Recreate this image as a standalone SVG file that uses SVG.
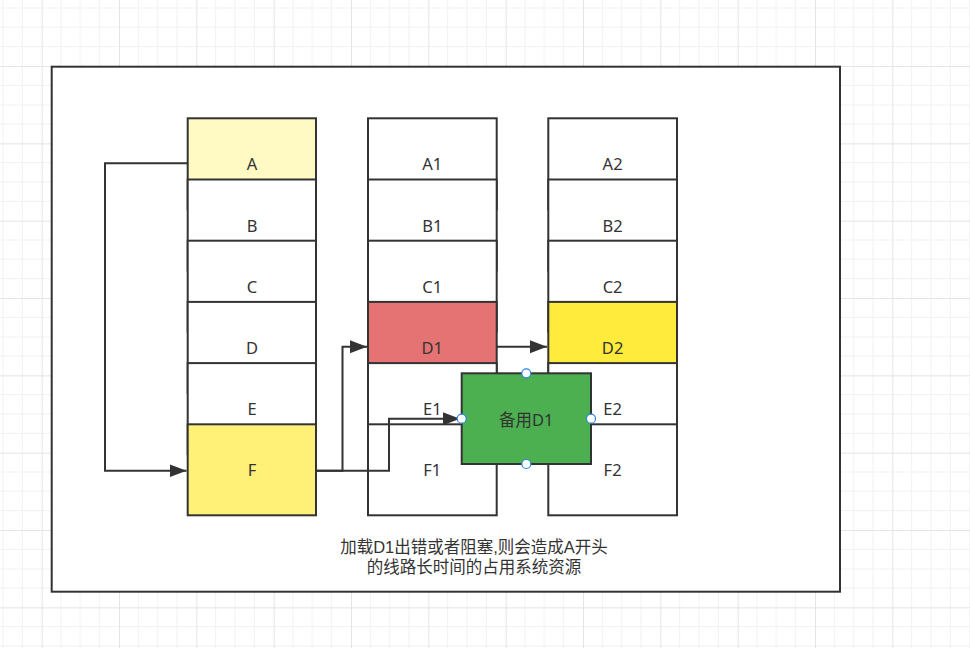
<svg xmlns="http://www.w3.org/2000/svg" width="970" height="648" viewBox="0 0 970 648">
<style>
.cell{stroke:#333333;stroke-width:2;}
.w{fill:#ffffff;}
.lbl{font-family:"Noto Sans","Noto Sans CJK SC",sans-serif;font-size:16.5px;fill:#333333;text-anchor:middle;dominant-baseline:central;}
.note{font-family:"Liberation Sans","Noto Sans CJK SC",sans-serif;font-size:16.5px;fill:#333333;text-anchor:middle;}
.conn{fill:none;stroke:#333333;stroke-width:2;}
.handle{fill:#ffffff;stroke:#2b86e0;stroke-width:1.2;}
</style>
<defs>
<pattern id="grid" patternUnits="userSpaceOnUse" x="41.667" y="66" width="77.333" height="77.333">
<path d="M19.333,0V77.333M38.667,0V77.333M58,0V77.333M0,19.333H77.333M0,38.667H77.333M0,58H77.333" stroke="#f1f1f1" stroke-width="1" fill="none"/>
<path d="M0.5,0V77.333M0,0.5H77.333" stroke="#e4e4e4" stroke-width="1" fill="none"/>
</pattern>
<marker id="arr" markerUnits="userSpaceOnUse" markerWidth="18" markerHeight="14" refX="17" refY="6.5" orient="auto">
<path d="M0,0 L17,6.5 L0,13 Z" fill="#333333"/>
</marker>
</defs>
<rect x="0" y="0" width="970" height="648" fill="#ffffff"/>
<rect x="0" y="0" width="970" height="648" fill="url(#grid)"/>
<g id="container">
<rect x="51.7" y="66.7" width="788.3" height="525" fill="#ffffff" stroke="#333333" stroke-width="2"/>
<text class="note" x="474" y="553">加载D1出错或者阻塞,则会造成A开头</text>
<text class="note" x="474" y="573">的线路长时间的占用系统资源</text>
</g>
<g id="col1">
<g id="A"><rect class="cell" x="187.7" y="118.3" width="128.3" height="91" fill="#fff9c4"/><text class="lbl" x="252" y="163.8">A</text></g>
<g id="B"><rect class="cell w" x="187.7" y="179.5" width="128.3" height="91"/><text class="lbl" x="252" y="225">B</text></g>
<g id="C"><rect class="cell w" x="187.7" y="240.7" width="128.3" height="91"/><text class="lbl" x="252" y="286.2">C</text></g>
<g id="D"><rect class="cell w" x="187.7" y="301.9" width="128.3" height="91"/><text class="lbl" x="252" y="347.4">D</text></g>
<g id="E"><rect class="cell w" x="187.7" y="363.1" width="128.3" height="91"/><text class="lbl" x="252" y="408.6">E</text></g>
<g id="F"><rect class="cell" x="187.7" y="424.3" width="128.3" height="91" fill="#fff078"/><text class="lbl" x="252" y="469.8">F</text></g>
</g>
<g id="col2">
<g id="A1"><rect class="cell w" x="368" y="118.3" width="128.7" height="91"/><text class="lbl" x="432.3" y="163.8">A1</text></g>
<g id="B1"><rect class="cell w" x="368" y="179.5" width="128.7" height="91"/><text class="lbl" x="432.3" y="225">B1</text></g>
<g id="C1"><rect class="cell w" x="368" y="240.7" width="128.7" height="91"/><text class="lbl" x="432.3" y="286.2">C1</text></g>
<g id="D1"><rect class="cell" x="368" y="301.9" width="128.7" height="91" fill="#e57373"/><text class="lbl" x="432.3" y="347.4">D1</text></g>
<g id="E1"><rect class="cell w" x="368" y="363.1" width="128.7" height="91"/><text class="lbl" x="432.3" y="408.6">E1</text></g>
<g id="F1"><rect class="cell w" x="368" y="424.3" width="128.7" height="91"/><text class="lbl" x="432.3" y="469.8">F1</text></g>
</g>
<g id="col3">
<g id="A2"><rect class="cell w" x="548.3" y="118.3" width="128.7" height="91"/><text class="lbl" x="612.6" y="163.8">A2</text></g>
<g id="B2"><rect class="cell w" x="548.3" y="179.5" width="128.7" height="91"/><text class="lbl" x="612.6" y="225">B2</text></g>
<g id="C2"><rect class="cell w" x="548.3" y="240.7" width="128.7" height="91"/><text class="lbl" x="612.6" y="286.2">C2</text></g>
<g id="D2"><rect class="cell" x="548.3" y="301.9" width="128.7" height="91" fill="#ffeb3b"/><text class="lbl" x="612.6" y="347.4">D2</text></g>
<g id="E2"><rect class="cell w" x="548.3" y="363.1" width="128.7" height="91"/><text class="lbl" x="612.6" y="408.6">E2</text></g>
<g id="F2"><rect class="cell w" x="548.3" y="424.3" width="128.7" height="91"/><text class="lbl" x="612.6" y="469.8">F2</text></g>
</g>
<g id="backupD1">
<rect class="cell" x="461.7" y="373.3" width="129.3" height="90.7" fill="#4caf50"/>
<text class="lbl" x="526.3" y="419.5">备用D1</text>
</g>
<g id="connectors">
<path class="conn" d="M187.7,163.3 H105 V470.7 H186.5" marker-end="url(#arr)"/>
<path class="conn" d="M316,470.7 H342.5 V346.8 H367" marker-end="url(#arr)"/>
<path class="conn" d="M316,470.7 H389 V418.7 H460" marker-end="url(#arr)"/>
<path class="conn" d="M496.7,346.8 H547" marker-end="url(#arr)"/>
</g>
<g id="handles">
<circle class="handle" cx="526.3" cy="373.3" r="4.5"/>
<circle class="handle" cx="461.7" cy="418.7" r="4.5"/>
<circle class="handle" cx="591" cy="418.7" r="4.5"/>
<circle class="handle" cx="526.3" cy="464" r="4.5"/>
</g>
</svg>
